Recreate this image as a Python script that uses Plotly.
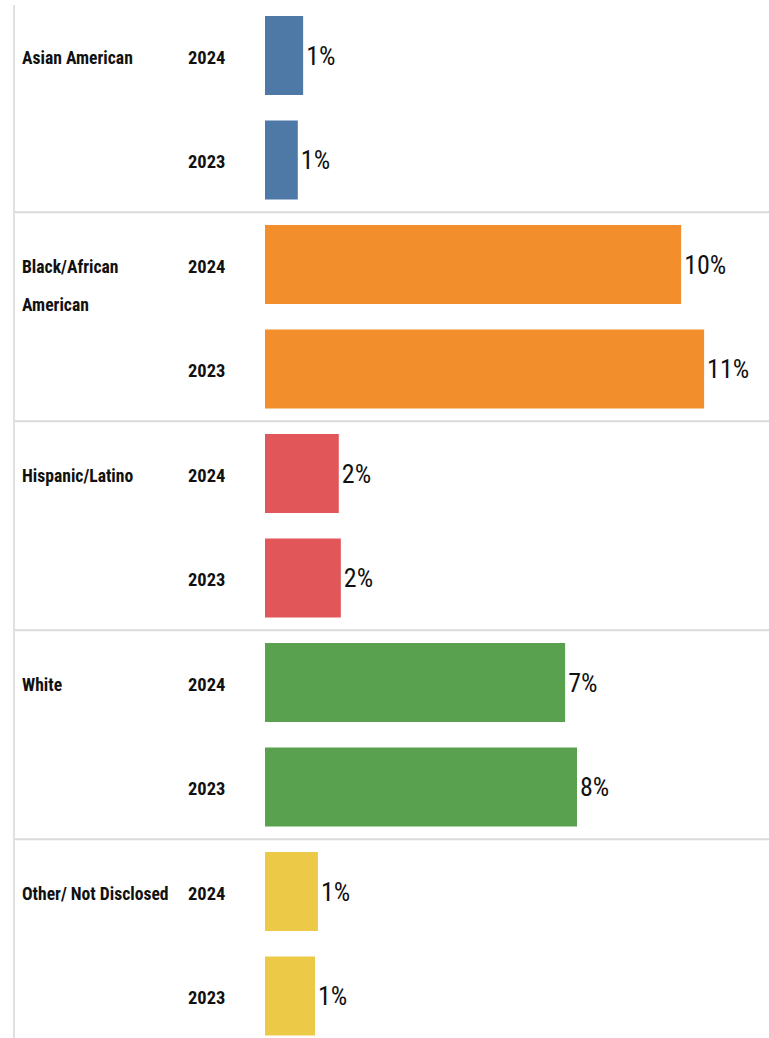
import plotly.graph_objects as go

# Share of staff by race/ethnicity, 2024 vs 2023 (percent)
groups = ["Asian American", "Black/African American", "Hispanic/Latino", "White", "Other/ Not Disclosed"]
group_lines = [["Asian American"], ["Black/African", "American"], ["Hispanic/Latino"], ["White"], ["Other/ Not Disclosed"]]
years = ["2024", "2023"]
values_2024 = [0.93, 10.15, 1.80, 7.32, 1.29]
values_2023 = [0.80, 10.71, 1.85, 7.61, 1.22]
colors = ["#4e79a7", "#f28e2b", "#e15759", "#59a14f", "#edc948"]

W, H = 769, 1038
BAR_X0 = 265          # pixel where bars start
PX_PER_PCT = 41.0     # horizontal scale
ROW_PX = 104.5        # vertical spacing of rows
FIRST_ROW_PX = 55.5   # centre of first row

label_font = "Roboto Condensed, DejaVu Sans Condensed, sans-serif"

# flatten into rows
row_vals, row_cols, row_pos, row_years = [], [], [], []
for gi, g in enumerate(groups):
    for yi, (yr, v) in enumerate(zip(years, [values_2024[gi], values_2023[gi]])):
        row_vals.append(v)
        row_cols.append(colors[gi])
        row_pos.append(gi * 2 + yi)
        row_years.append(yr)

fig = go.Figure(go.Bar(
    x=row_vals,
    y=row_pos,
    orientation="h",
    width=0.756,
    marker=dict(color=row_cols, line=dict(width=0)),
    texttemplate="%{x:.0f}%",
    textposition="outside",
    constraintext="none",
    cliponaxis=False,
    textfont=dict(family=label_font, size=26, color="#111111"),
    hoverinfo="skip",
))

y_top = -FIRST_ROW_PX / ROW_PX
y_bot = y_top + H / ROW_PX
x_left = -BAR_X0 / PX_PER_PCT
x_right = (W - BAR_X0) / PX_PER_PCT

annotations = []
# year labels
for p, yr in zip(row_pos, row_years):
    annotations.append(dict(
        x=187 / W, xref="paper", y=p, yref="y", text=f"<b>{yr}</b>",
        showarrow=False, xanchor="left", yanchor="middle", xshift=-1, yshift=-2,
        font=dict(family=label_font, size=18.5, color="#111111"),
    ))
# group labels
for gi, lines in enumerate(group_lines):
    for li, line in enumerate(lines):
        annotations.append(dict(
            x=21 / W, xref="paper", y=gi * 2, yref="y", text=f"<b>{line}</b>",
            showarrow=False, xanchor="left", yanchor="middle", yshift=-38 * li - 2, xshift=-1,
            font=dict(family=label_font, size=17.6, color="#111111"),
        ))

shapes = []
# separators between groups
for gi in range(1, len(groups)):
    shapes.append(dict(
        type="line", xref="paper", yref="y", x0=13 / W, x1=1, y0=gi * 2 - 0.5, y1=gi * 2 - 0.5,
        line=dict(color="#dadada", width=2),
    ))
# left border line
shapes.append(dict(
    type="line", xref="paper", yref="paper", x0=14 / W, x1=14 / W, y0=0, y1=1 - 5 / H,
    line=dict(color="#e0e0e0", width=2),
))

fig.update_layout(
    width=W, height=H,
    margin=dict(l=0, r=0, t=0, b=0),
    plot_bgcolor="white", paper_bgcolor="white",
    showlegend=False,
    xaxis=dict(range=[x_left, x_right], visible=False, fixedrange=True),
    yaxis=dict(range=[y_bot, y_top], visible=False, fixedrange=True),
    annotations=annotations,
    shapes=shapes,
)

fig.write_html("out.html")
